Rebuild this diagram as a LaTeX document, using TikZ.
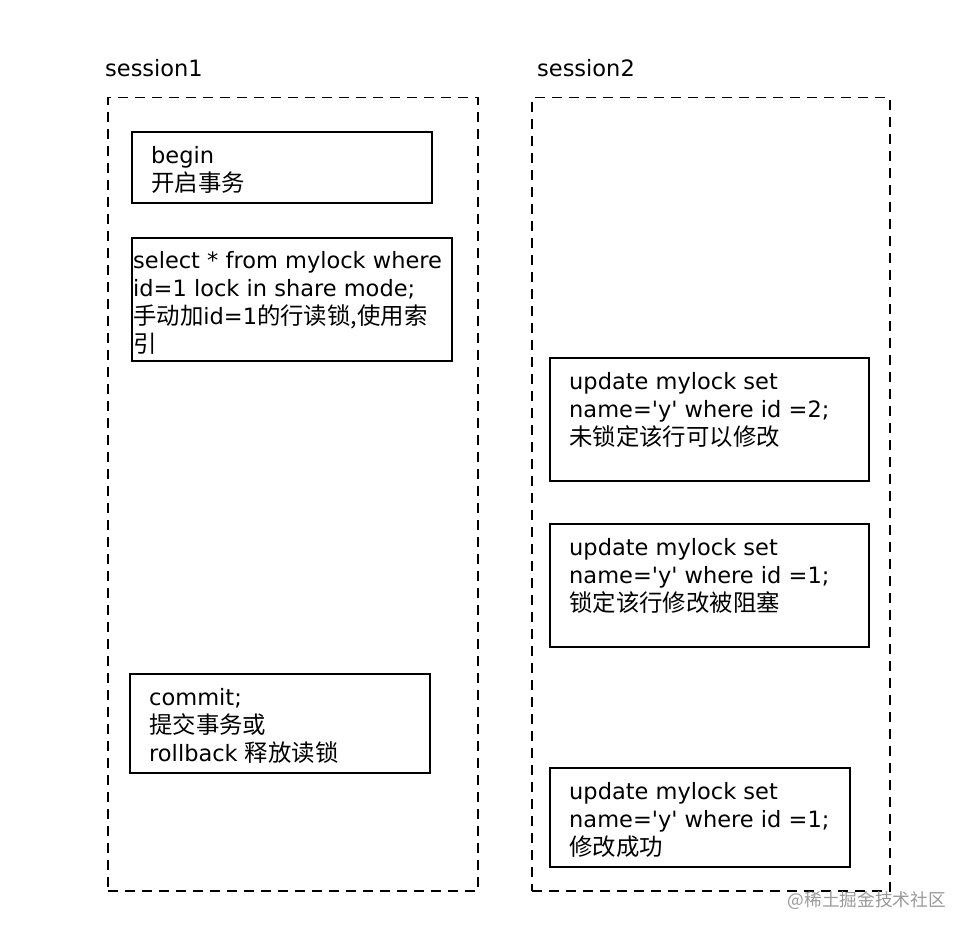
\documentclass[tikz,border=0pt]{standalone}
\usepackage{fontspec}
\setmainfont{DejaVu Sans}
\newfontfamily\cjk[Scale=1.04]{Noto Sans CJK SC}
\usetikzlibrary{positioning}
\newcommand{\zh}[1]{{\cjk #1}}
\newcommand{\q}{\textquotesingle}

\begin{document}
\begin{tikzpicture}[
  x=1pt, y=-1pt,
  sessbox/.style = {draw, line width=1.5pt, dash pattern=on 10pt off 7pt,
                    anchor=north west, inner sep=0pt},
  sqlbox/.style  = {draw, line width=1.6pt, anchor=north west, inner sep=0pt},
  sqltext/.style = {anchor=north west, inner sep=0pt, align=left,
                    font=\fontsize{22.5}{28}\selectfont},
  title/.style   = {anchor=west, inner sep=0pt, font=\fontsize{22.5}{24}\selectfont},
]
\useasboundingbox (0,0) rectangle (972,936);

% the two sessions
\node[title] (t1) at (105,68) {session1};
\node[title] (t2) at (537,68) {session2};
\node[sessbox, minimum width=370pt, minimum height=793pt] (s1) at (107,97) {};
\node[sessbox, minimum width=358pt, minimum height=793pt] (s2) at (531,97) {};

% session1 steps
\node[sqlbox, minimum width=300pt, minimum height=71pt] (begin) at (131,131) {};
\node[sqltext, below right=15pt and 20pt of begin.north west] (begintx)
  {begin\\\zh{开启事务}};

\node[sqlbox, minimum width=320pt, minimum height=123pt] (select) at (131,237) {};
\node[sqltext, below right=14pt and 2pt of select.north west] (selecttx)
  {select * from mylock where\\id=1 lock in share mode;\\\zh{手动加}id=1\zh{的行读锁,使用索}\\\zh{引}};

\node[sqlbox, minimum width=300pt, minimum height=99pt] (commit) at (129,673) {};
\node[sqltext, below right=15pt and 20pt of commit.north west] (committx)
  {commit;\\\zh{提交事务或}\\rollback \zh{释放读锁}};

% session2 steps
\node[sqlbox, minimum width=319pt, minimum height=123pt] (upd2) at (549,357) {};
\node[sqltext, below right=15pt and 20pt of upd2.north west] (upd2tx)
  {update mylock set\\name=\q y\q{} where id =2;\\\zh{未锁定该行可以修改}};

\node[sqlbox, minimum width=319pt, minimum height=123pt] (upd1) at (549,523) {};
\node[sqltext, below right=15pt and 20pt of upd1.north west] (upd1tx)
  {update mylock set\\name=\q y\q{} where id =1;\\\zh{锁定该行修改被阻塞}};

\node[sqlbox, minimum width=300pt, minimum height=99pt] (done) at (549,767) {};
\node[sqltext, below right=15pt and 20pt of done.north west] (donetx)
  {update mylock set\\name=\q y\q{} where id =1;\\\zh{修改成功}};

% watermark
\node[anchor=east, inner sep=0pt, text=black!40, font=\fontsize{17}{20}\selectfont\cjk]
  (mark) at (946,901) {@稀土掘金技术社区};

\end{tikzpicture}
\end{document}
